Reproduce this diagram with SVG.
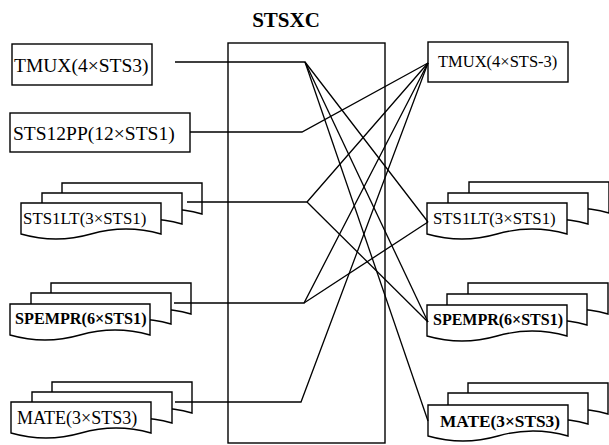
<svg xmlns="http://www.w3.org/2000/svg" xmlns:xlink="http://www.w3.org/1999/xlink" width="609" height="445" viewBox="0 0 609 445">
<style>
  .box{fill:#fff;stroke:#000;stroke-width:1.4}
  .frame{fill:none;stroke:#000;stroke-width:1.4}
  .sheet{fill:#fff;stroke:#000;stroke-width:1.4;stroke-linejoin:miter}
  .lbl{font-family:"Liberation Serif","Times New Roman",serif;fill:#000}
  .b{font-weight:bold}
  .conn path{fill:none;stroke:#000;stroke-width:1.3;stroke-linejoin:miter}
</style>
<defs>
  <path id="doc" class="sheet" d="M0,0 H140 V31 Q105,21 70,31 Q35,41 0,31 Z"/>
</defs>
<rect width="609" height="445" fill="#fff"/>

<g id="stsxc">
  <rect class="frame" x="228" y="43" width="157" height="400"/>
  <text class="lbl b" x="286" y="27" font-size="21" text-anchor="middle">STSXC</text>
</g>

<g id="tmux-left">
  <rect class="box" x="12" y="44" width="140" height="41"/>
  <text class="lbl" x="14" y="72" font-size="19.5">TMUX(4×STS3)</text>
</g>

<g id="sts12pp-left">
  <rect class="box" x="10" y="113" width="180" height="39"/>
  <text class="lbl" x="13" y="140" font-size="19.5">STS12PP(12×STS1)</text>
</g>

<g id="sts1lt-left">
  <use xlink:href="#doc" x="62" y="183"/>
  <use xlink:href="#doc" x="42" y="193"/>
  <use xlink:href="#doc" x="21" y="203"/>
  <text class="lbl" x="23" y="224" font-size="16.9">STS1LT(3×STS1)</text>
</g>

<g id="spempr-left">
  <use xlink:href="#doc" x="51" y="283"/>
  <use xlink:href="#doc" x="31" y="293"/>
  <use xlink:href="#doc" x="10" y="304"/>
  <text class="lbl b" x="15" y="324" font-size="16.2">SPEMPR(6×STS1)</text>
</g>

<g id="mate-left">
  <use xlink:href="#doc" x="52" y="382"/>
  <use xlink:href="#doc" x="32" y="392"/>
  <use xlink:href="#doc" x="11" y="402"/>
  <text class="lbl" x="17" y="424" font-size="18">MATE(3×STS3)</text>
</g>

<g id="tmux-right">
  <rect class="box" x="428" y="42" width="140" height="40"/>
  <text class="lbl" x="438" y="67" font-size="16.5">TMUX(4×STS-3)</text>
</g>

<g id="sts1lt-right">
  <use xlink:href="#doc" x="469" y="182"/>
  <use xlink:href="#doc" x="448" y="193"/>
  <use xlink:href="#doc" x="427" y="203"/>
  <text class="lbl" x="433" y="224" font-size="16.8">STS1LT(3×STS1)</text>
</g>

<g id="spempr-right">
  <use xlink:href="#doc" x="468" y="283"/>
  <use xlink:href="#doc" x="447" y="294"/>
  <use xlink:href="#doc" x="427" y="305"/>
  <text class="lbl b" x="433" y="325" font-size="16">SPEMPR(6×STS1)</text>
</g>

<g id="mate-right">
  <use xlink:href="#doc" x="468" y="383"/>
  <use xlink:href="#doc" x="448" y="393"/>
  <use xlink:href="#doc" x="428" y="405"/>
  <text class="lbl b" x="440" y="427" font-size="17.3">MATE(3×STS3)</text>
</g>

<g id="connectors" class="conn">
  <path d="M175,62 H305 L428,222"/>
  <path d="M305,62 L428,322"/>
  <path d="M305,62 L428,421"/>
  <path d="M190,132 H302 L428,63"/>
  <path d="M187,202 H307 L428,63"/>
  <path d="M307,202 L428,322"/>
  <path d="M174,303 H304 L428,63"/>
  <path d="M304,303 L428,222"/>
  <path d="M175,402 H301 L428,63"/>
</g>
</svg>
